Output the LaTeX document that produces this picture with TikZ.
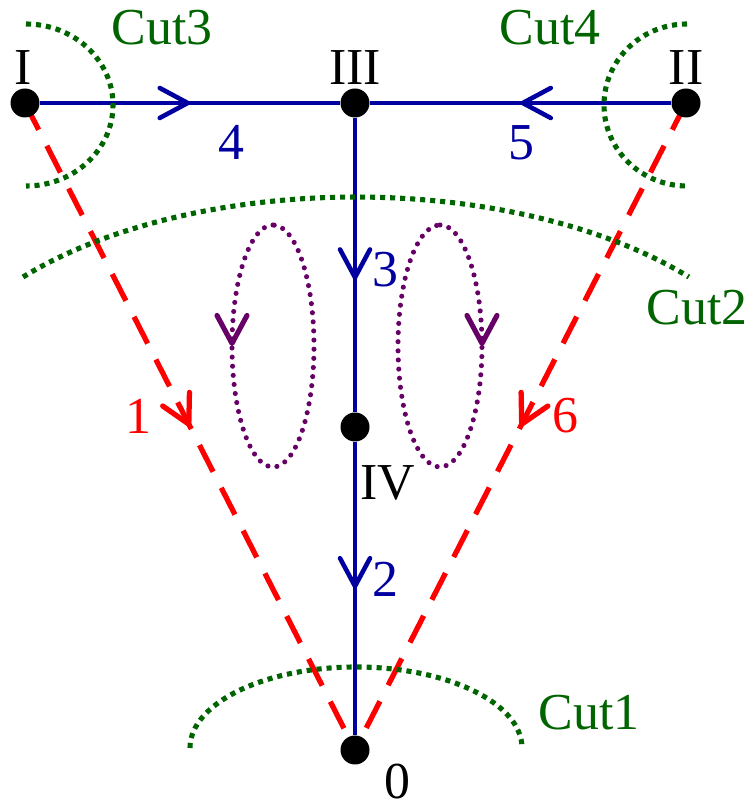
\documentclass[tikz,border=0pt]{standalone}
\usepackage{fontspec}
\setmainfont{Liberation Serif}
\usetikzlibrary{arrows.meta,decorations.markings,backgrounds}
\definecolor{edgeblue}{RGB}{0,0,160}
\definecolor{cutgreen}{RGB}{0,100,0}
\definecolor{loopviolet}{RGB}{102,0,102}
\tikzset{
	barb/.tip={Straight Barb[length=0.56cm, width=0.6cm, round]},
	dot/.style={circle, fill=black, inner sep=0pt, minimum size=0.58cm},
	lab/.style={anchor=base, inner sep=0pt, font=\fontsize{29.5}{35}\selectfont},
	midarrow/.style={postaction={decorate}, decoration={markings, mark=at position #1 with {\arrow{barb}}}},
	blueedge/.style={draw=edgeblue, line width=2.6pt},
	rededge/.style={draw=red, line width=3pt, dash pattern=on 0.6cm off 0.36cm},
	cutline/.style={draw=cutgreen, line width=2.9pt, dash pattern=on 2.9pt off 2.8pt},
	loopline/.style={draw=loopviolet, line width=2.9pt, line cap=round, dash pattern=on 0pt off 5.2pt},
}
\begin{document}
\begin{tikzpicture}
	\useasboundingbox (0,0) rectangle (15.08,16.16);
	% vertices
	\node[dot] (I) at (0.5,14.1) {};
	\node[dot] (III) at (7.1,14.1) {};
	\node[dot] (II) at (13.72,14.1) {};
	\node[dot] (IV) at (7.1,7.62) {};
	\node[dot] (O) at (7.1,1.16) {};
	% dashed edges
	\begin{pgfonlayer}{background}
		\draw[rededge, midarrow=0.5] (I.center) -- (O.center);
		\draw[rededge, midarrow=0.5] (II.center) -- (O.center);
	\end{pgfonlayer}
	% solid edges
	\draw[blueedge, midarrow=0.5] (I) -- (III);
	\draw[blueedge, midarrow=0.5] (II) -- (III);
	\draw[blueedge, midarrow=0.55] (III) -- (IV);
	\draw[blueedge, midarrow=0.5] (IV) -- (O);
	% loops
	\draw[loopline, midarrow=0.25] (5.46,11.66) arc[start angle=90, end angle=450, x radius=0.82cm, y radius=2.42cm];
	\draw[loopline, midarrow=0.25] (8.8,11.66) arc[start angle=90, end angle=-270, x radius=0.84cm, y radius=2.42cm];
	% cuts
	\draw[cutline] (0.52,15.68) arc[start angle=90, end angle=-90, x radius=1.74cm, y radius=1.62cm];
	\draw[cutline] (13.74,15.68) arc[start angle=90, end angle=270, x radius=1.66cm, y radius=1.62cm];
	\draw[cutline] (0.46,10.62) arc[start angle=140.1, end angle=39.9, x radius=8.68cm, y radius=4.46cm];
	\draw[cutline] (3.8,1.2) arc[start angle=180, end angle=0, x radius=3.32cm, y radius=1.62cm];
	% labels
	\node[lab] (tI) at (0.46,14.46) {I};
	\node[lab] (tIII) at (7.1,14.46) {III};
	\node[lab] (tII) at (13.72,14.46) {II};
	\node[lab] (tIV) at (7.76,6.16) {IV};
	\node[lab] (tO) at (7.94,0.2) {0};
	\node[lab, edgeblue] (n4) at (4.62,12.96) {4};
	\node[lab, edgeblue] (n5) at (10.42,12.96) {5};
	\node[lab, edgeblue] (n3) at (7.7,10.42) {3};
	\node[lab, edgeblue] (n2) at (7.7,4.22) {2};
	\node[lab, red] (n1) at (2.76,7.48) {1};
	\node[lab, red] (n6) at (11.3,7.5) {6};
	\node[lab, cutgreen] (c3) at (3.24,15.26) {Cut3};
	\node[lab, cutgreen] (c4) at (11.0,15.26) {Cut4};
	\node[lab, cutgreen] (c2) at (13.94,9.66) {Cut2};
	\node[lab, cutgreen] (c1) at (11.78,1.56) {Cut1};
\end{tikzpicture}
\end{document}
